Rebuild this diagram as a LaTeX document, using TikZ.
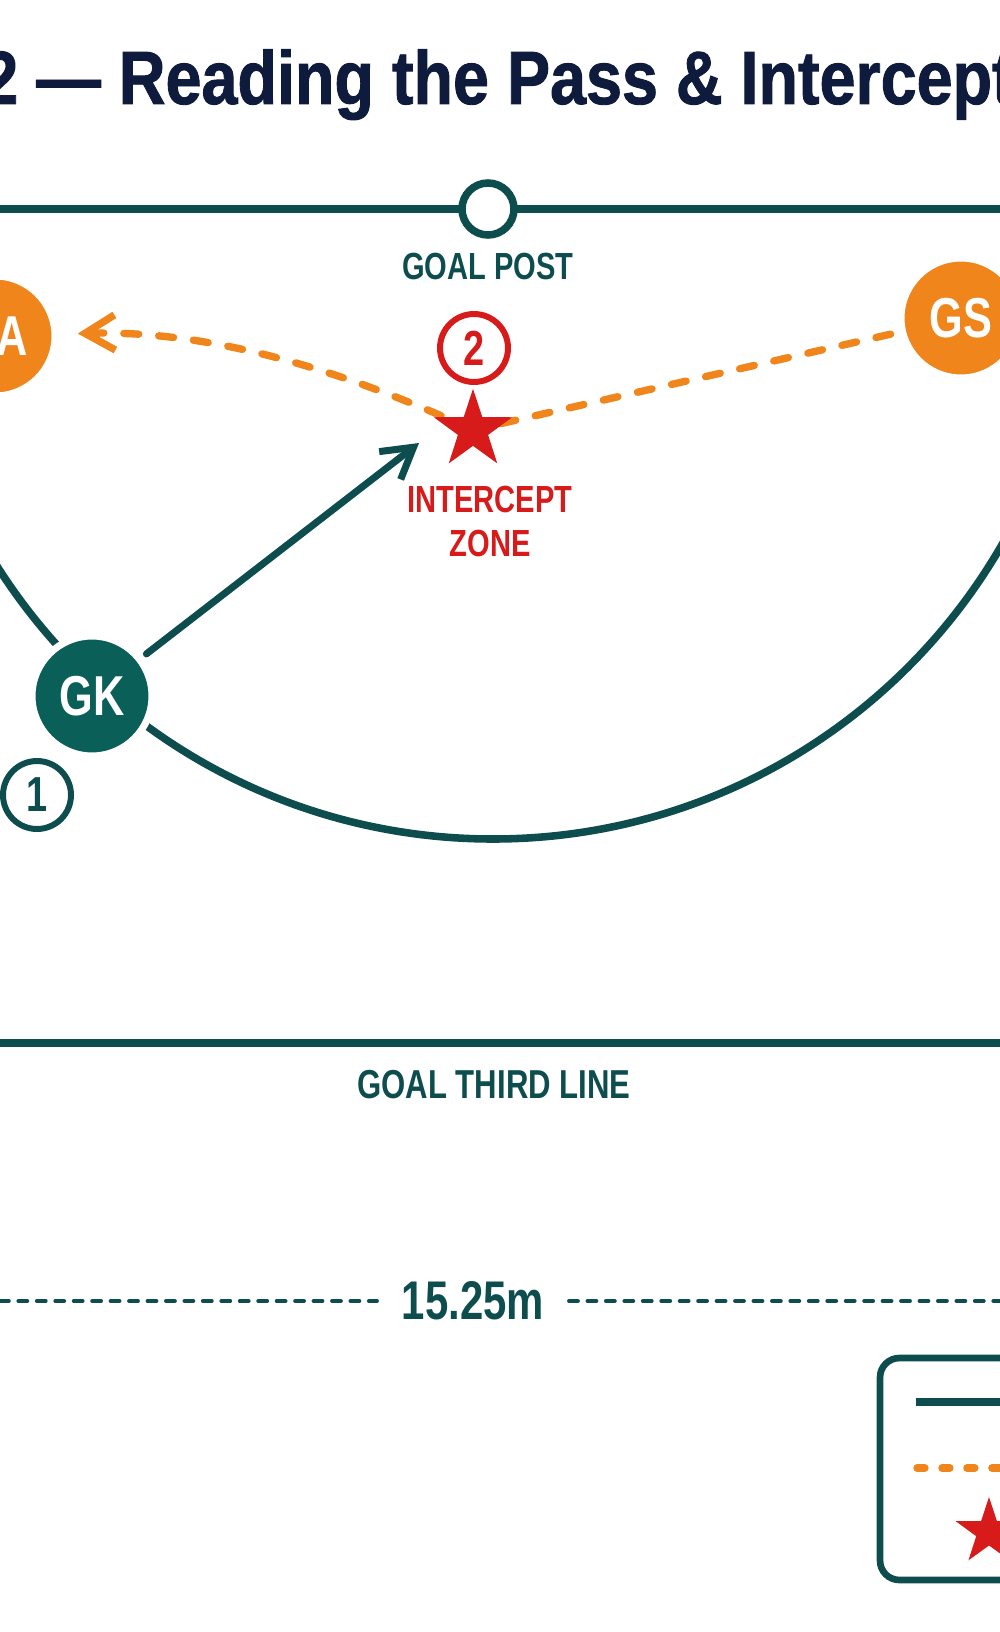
\documentclass[tikz,border=0pt]{standalone}
\usepackage{fontspec}
\setmainfont{Liberation Sans}[FakeStretch=0.77]
\newfontfamily\titlefont{Liberation Sans}[FakeStretch=0.856, FakeBold=1.2]
\usetikzlibrary{arrows.meta, positioning, shapes.geometric}
\definecolor{cnavy}{HTML}{0E1B3C}
\definecolor{cteal}{HTML}{0E4D4E}
\definecolor{cgk}{HTML}{0A5F59}
\definecolor{corange}{HTML}{F0861B}
\definecolor{cred}{HTML}{D71A1A}
\tikzset{
  every picture/.style={x=0.02cm, y=-0.02cm},
  courtline/.style={draw=cteal, line width=4.3pt},
  player/.style={circle, fill=#1, draw=white, line width=4pt, minimum size=2.4cm, inner sep=0pt, text=white, font=\fontsize{32}{36}\selectfont\bfseries},
  badge/.style={circle, draw=#1, fill=white, line width=3.4pt, text=#1, minimum size=1.36cm, inner sep=0pt, font=\fontsize{28}{32}\selectfont\bfseries},
  courttext/.style={text=cteal, inner sep=0pt, font=\fontsize{21.5}{25}\selectfont\bfseries},
  pass/.style={draw=corange, line width=4.2pt, line cap=round, dash pattern=on 8.5pt off 11.4pt},
  passtip/.style={-{Straight Barb[length=17pt, width=20pt]}},
  runarrow/.style={draw=cteal, line width=4pt, line cap=round, -{Straight Barb[length=17pt, width=20pt]}},
  hitstar/.style={star, star points=5, star point ratio=2.6, fill=cred, inner sep=0pt, minimum size=#1},
  dimline/.style={draw=cteal, line width=2.3pt, line cap=round, dash pattern=on 5pt off 5.5pt},
}

\begin{document}
\begin{tikzpicture}
  \useasboundingbox (0,0) rectangle (1000,1632);
  \clip (0,0) rectangle (1000,1632);
  \node[anchor=base west, text=cnavy, inner sep=0pt, font={\titlefont\bfseries\fontsize{43}{48}\selectfont}] (title) at (-18,104) {2 — Reading the Pass \& Intercept};
  % court markings
  \draw[courtline] (0,209) -- (1000,209);
  \draw[courtline] (0,1043) -- (1000,1043);
  \draw[courtline] (493,252) ++(180:587) arc[start angle=180, end angle=0, radius=587];
  \node[circle, draw=cteal, fill=white, line width=4.3pt, minimum size=1.04cm] (post) at (488,209) {};
  \node[courttext, below=0.28cm of post] (postlab) {GOAL POST};
  \node[courttext, anchor=north, font=\fontsize{23}{27}\selectfont\bfseries] (thirdlab) at (494,1070) {GOAL THIRD LINE};
  % players
  \node[player=corange] (ga) at (-5,336) {GA};
  \node[player=corange] (gs) at (961,318) {GS};
  \node[player=cgk] (gk) at (92,696) {GK};
  \coordinate (iz) at (473,430);
  \coordinate (gkto) at (419,443);
  % pass and the read
  \draw[pass, shorten <=5pt] (gs) -- (iz);
  \draw[pass, passtip, shorten >=11pt] (iz) .. controls (330,364) and (200,330) .. (ga);
  \draw[runarrow, shorten <=3pt] (gk) -- (gkto);
  \node[hitstar=1.65cm] (star) at (iz) {};
  \node[badge=cred] (b2) at (474,348) {2};
  \node[badge=cteal] (b1) at (37,795) {1};
  \node[courttext, text=cred, anchor=north, align=center] (izlab) at (490,486) {INTERCEPT\\ZONE};
  % court width
  \node[text=cteal, inner xsep=14pt, inner ysep=0pt, font=\fontsize{31}{35}\selectfont\bfseries] (dim) at (473,1301) {15.25m};
  \coordinate (dimL) at (0,1301);
  \coordinate (dimR) at (1000,1301);
  \draw[dimline] (dimL) -- (dim);
  \draw[dimline] (dim) -- (dimR);
  % key
  \node[draw=cteal, line width=3.8pt, rounded corners=11pt, minimum width=6.8cm, minimum height=4.44cm] (legend) at (1050,1469) {};
  \draw[cteal, line width=4.5pt] (916,1402) -- (1010,1402);
  \draw[pass, dash pattern=on 4.5pt off 9.7pt] (917,1468) -- (1010,1468);
  \node[hitstar=1.4cm] (keystar) at (989,1532) {};
\end{tikzpicture}
\end{document}
